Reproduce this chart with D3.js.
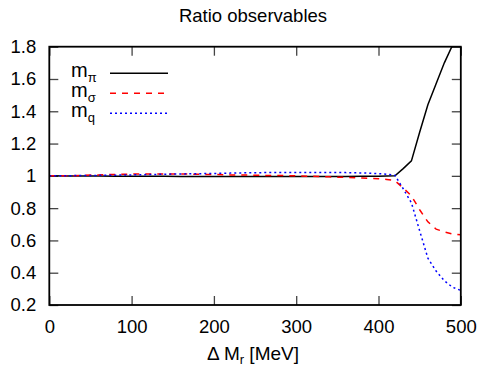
<!DOCTYPE html>
<html><head><meta charset="utf-8">
<script src="https://cdn.jsdelivr.net/npm/d3@7"></script>
<style>body{margin:0;background:#fff}svg{display:block}text{font-family:"Liberation Sans",Arial,sans-serif;fill:#000}</style>
</head><body><div id="c"></div>
<script>
const deltaM = [0,20,40,60,80,100,120,140,160,180,200,220,240,260,280,300,320,340,360,380,400,410,420,430,440,450,460,470,480,490,500];
const mPi =    [1.0,0.9995,0.999,0.9985,0.998,0.9975,0.997,0.997,0.9965,0.996,0.996,0.996,0.996,0.996,0.996,0.996,0.996,0.996,0.996,0.997,0.998,0.999,1.0,1.045,1.093,1.27,1.44,1.57,1.70,1.81,1.92];
const mSigma = [1.0,1.0,1.003,1.006,1.009,1.011,1.012,1.012,1.012,1.01,1.008,1.006,1.005,1.003,1.002,1.0,0.997,0.994,0.99,0.987,0.982,0.978,0.97,0.925,0.876,0.79,0.715,0.67,0.653,0.64,0.635];
const mQ =     [1.0,1.001,1.002,1.003,1.004,1.006,1.008,1.01,1.012,1.013,1.015,1.017,1.019,1.02,1.021,1.021,1.021,1.021,1.02,1.018,1.014,1.01,1.003,0.92,0.833,0.66,0.49,0.41,0.35,0.31,0.29];
const xTicks = [0,100,200,300,400,500];
const yTicks = [0.2,0.4,0.6,0.8,1,1.2,1.4,1.6,1.8];
const seriesNames = ["π","σ","q"];
const seriesColors = ["#000000","#ff0000","#0000ff"];
const seriesDash = [null,"6,6","2,3"];

const W=482,H=366;
const L=49.3,R=460.8,T=46.7,B=305;
const svg=d3.select("#c").append("svg").attr("width",W).attr("height",H);
const x=d3.scaleLinear().domain([0,500]).range([L,R]);
const y=d3.scaleLinear().domain([0.2,1.8]).range([B,T]);

svg.append("defs").append("clipPath").attr("id","clip").append("rect")
  .attr("x",L).attr("y",T).attr("width",R-L).attr("height",B-T);

const tk=9;
const gAx=svg.append("g");
const axB=d3.axisBottom(x).tickValues(xTicks).tickSize(-tk).tickPadding(tk+6).tickFormat(d3.format("d"));
const axL=d3.axisLeft(y).tickValues(yTicks).tickSize(-tk).tickPadding(tk+4).tickFormat(d=>String(+d.toFixed(1)));
const axT=d3.axisTop(x).tickValues(xTicks).tickSize(-tk).tickFormat("");
const axR=d3.axisRight(y).tickValues(yTicks).tickSize(-tk).tickFormat("");
function style(g){g.select(".domain").remove();g.selectAll(".tick line").attr("stroke","#444").attr("stroke-width",1.3);g.selectAll("text").attr("font-size",18.5).attr("font-family","Liberation Sans, Arial, sans-serif").attr("fill","#000");}
gAx.append("g").attr("transform",`translate(0,${B})`).call(axB).call(style);
gAx.append("g").attr("transform",`translate(${L},0)`).call(axL).call(style);
gAx.append("g").attr("transform",`translate(0,${T})`).call(axT).call(style);
gAx.append("g").attr("transform",`translate(${R},0)`).call(axR).call(style);

const series=[mPi,mSigma,mQ];
const line=d3.line().x((d,i)=>x(deltaM[i])).y(d=>y(d));
series.forEach((s,k)=>{
  svg.append("path").datum(s).attr("clip-path","url(#clip)").attr("d",line)
    .attr("fill","none").attr("stroke",seriesColors[k]).attr("stroke-width",1.5)
    .attr("stroke-dasharray",seriesDash[k]);
});

svg.append("rect").attr("x",L).attr("y",T).attr("width",R-L).attr("height",B-T)
  .attr("fill","none").attr("stroke","#000").attr("stroke-width",1.8);

const legY=[73.3,93.3,113.3];
seriesNames.forEach((n,k)=>{
  const t=svg.append("text").attr("x",71).attr("y",legY[k]+4).attr("font-size",20);
  t.append("tspan").text("m");
  t.append("tspan").attr("dy",4.5).attr("font-size",13).text(n);
  svg.append("line").attr("x1",110).attr("x2",168).attr("y1",legY[k]).attr("y2",legY[k])
    .attr("stroke",seriesColors[k]).attr("stroke-width",1.5).attr("stroke-dasharray",seriesDash[k]);
});

svg.append("text").attr("x",253).attr("y",22).attr("text-anchor","middle").attr("font-size",18.5).text("Ratio observables");
const xl=svg.append("text").attr("x",253).attr("y",359.5).attr("text-anchor","middle").attr("font-size",19);
xl.append("tspan").text("Δ M");
xl.append("tspan").attr("dy",4).attr("font-size",13).text("r");
xl.append("tspan").attr("dy",-4).text(" [MeV]");
</script></body></html>
